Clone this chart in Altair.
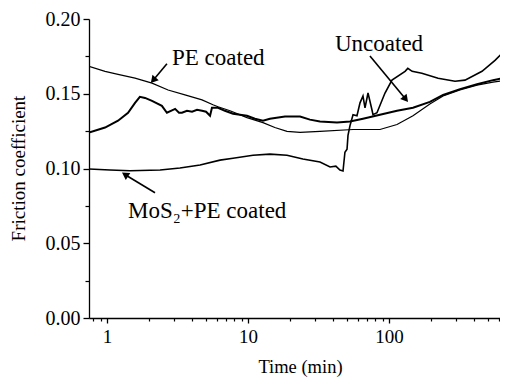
import altair as alt
import pandas as pd

# ---- data ----
pe_t = [0.745, 0.968, 1.197, 1.58, 2.085, 2.71, 3.57, 4.72, 5.64, 6.13, 7.45, 9.84,
        12.77, 15.5, 18.9, 23.4, 32.4, 55.6, 86.3, 114, 148, 195, 242, 319, 421, 547, 698]
pe_f = [0.1683, 0.1650, 0.1630, 0.1604, 0.1571, 0.1525, 0.1492, 0.1459, 0.1426, 0.1413, 0.1386, 0.1340,
        0.1307, 0.1274, 0.1248, 0.1241, 0.1248, 0.1261, 0.1261, 0.1294, 0.1353, 0.1432, 0.1485, 0.1525,
        0.1558, 0.1578, 0.1591]

unc_t = [0.745, 0.968, 1.197, 1.41, 1.58, 1.71, 1.86, 2.085, 2.45, 2.66, 2.84, 3.04, 3.24, 3.40,
         3.69, 4.01, 4.35, 4.72, 5.04, 5.38, 5.55, 6.13, 6.86, 7.83, 9.84, 11.2, 12.77, 14.3, 18.3,
         23.4, 27.5, 32.4, 42.8, 52.9, 65.4, 86.3, 114, 148, 195, 242, 319, 421, 547, 698]
unc_f = [0.1241, 0.1274, 0.1320, 0.1373, 0.1439, 0.1479, 0.1472, 0.1452, 0.1419, 0.1373, 0.1386,
         0.1399, 0.1373, 0.1373, 0.1386, 0.1380, 0.1393, 0.1386, 0.1380, 0.1353, 0.1406, 0.1406,
         0.1386, 0.1366, 0.1353, 0.1333, 0.1320, 0.1333, 0.1347, 0.1347, 0.1327, 0.1314, 0.1307,
         0.1314, 0.1333, 0.1360, 0.1386, 0.1406, 0.1446, 0.1492, 0.1531, 0.1564, 0.1591, 0.1611]

mos_t = [0.745, 1.05, 1.456, 2.38, 3.29, 4.57, 6.33, 7.83, 10.85, 14.3, 18.9, 24.5, 32.4, 38.2,
         42.0, 44.9, 47.2, 48.7, 50.4, 51.2, 52.9, 55.6, 59.3, 62.3, 65.4, 67.6, 71.0, 75.7, 77.0,
         82.2, 93.7, 105, 130, 136, 146, 171, 223, 294, 346, 457, 565, 633, 698]
mos_f = [0.0997, 0.0990, 0.0985, 0.0990, 0.1003, 0.1023, 0.1056, 0.1069, 0.1089, 0.1096, 0.1089,
         0.1063, 0.1043, 0.1010, 0.1016, 0.0990, 0.0983, 0.1109, 0.1129, 0.1221, 0.1287, 0.1360,
         0.1353, 0.1439, 0.1485, 0.1406, 0.1505, 0.1393, 0.1360, 0.1373, 0.1505, 0.1591, 0.1650,
         0.1670, 0.1650, 0.1637, 0.1604, 0.1584, 0.1591, 0.1650, 0.1723, 0.1769, 0.1789]

y_major = [0.0, 0.05, 0.10, 0.15, 0.20]
y_minor = [0.025, 0.075, 0.125, 0.175]
x_major = [1, 10, 100]
x_minor = [0.8, 0.9, 2, 3, 4, 5, 6, 7, 8, 9, 20, 30, 40, 50, 60, 70, 80, 90, 200, 300, 400, 500, 600]

label_text = ["PE coated", "Uncoated", "MoS\u2082+PE coated"]
label_t = [2.89, 41.4, 1.409]
label_f = [0.1690, 0.1785, 0.0670]

arrow_t1 = [2.66, 73.3, 2.19]
arrow_f1 = [0.1700, 0.1752, 0.0838]
arrow_t2 = [2.154, 129.8, 1.364]
arrow_f2 = [0.1597, 0.1470, 0.0955]
arrow_ang = [221, 140, 303]

FONT = "Liberation Serif, Times New Roman, serif"

pe = pd.DataFrame({"t": pe_t, "f": pe_f})
unc = pd.DataFrame({"t": unc_t, "f": unc_f})
mos = pd.DataFrame({"t": mos_t, "f": mos_f})
labels = pd.DataFrame({"t": label_t, "f": label_f, "txt": label_text})
arrows = pd.DataFrame({"t1": arrow_t1, "f1": arrow_f1, "t2": arrow_t2, "f2": arrow_f2, "ang": arrow_ang})

xs = alt.Scale(type="log", domain=[0.745, 613], nice=False)
ys = alt.Scale(domain=[0, 0.2], nice=False)

common_axis = dict(domainColor="black", tickColor="black", labelColor="black",
                   labelFont=FONT, grid=False, domainWidth=1.3, tickWidth=1.3)

x_axis_major = alt.Axis(values=x_major, format="d", tickSize=5, labelFontSize=19, labelPadding=4,
                        title="Time (min)", titleFont=FONT, titleFontSize=18.5, titleFontWeight="normal",
                        titleColor="black", titleX=211, titleY=54, titleBaseline="alphabetic",
                        titleAlign="center", orient="bottom", **common_axis)
y_axis_major = alt.Axis(values=y_major, format=".2f", tickSize=6, labelFontSize=20, labelPadding=3,
                        title="Friction coefficient", titleFont=FONT, titleFontSize=19,
                        titleFontWeight="normal", titleColor="black", titleAngle=270, titleX=-71,
                        titleY=149, titleBaseline="middle", titleAlign="center", orient="left",
                        **common_axis)
x_axis_minor = alt.Axis(values=x_minor, tickSize=3, labels=False, domain=False, title=None,
                        orient="bottom", tickColor="black", tickWidth=1.2, grid=False)
y_axis_minor = alt.Axis(values=y_minor, tickSize=4, labels=False, domain=False, title=None,
                        orient="left", tickColor="black", tickWidth=1.2, grid=False)

unc_layer = alt.Chart(unc).mark_line(color="black", strokeWidth=2.0, clip=True).encode(
    x=alt.X("t:Q", scale=xs, axis=x_axis_major),
    y=alt.Y("f:Q", scale=ys, axis=y_axis_major),
)
pe_layer = alt.Chart(pe).mark_line(color="black", strokeWidth=1.2, clip=True).encode(
    x=alt.X("t:Q", scale=xs, axis=x_axis_minor),
    y=alt.Y("f:Q", scale=ys, axis=y_axis_minor),
)
mos_layer = alt.Chart(mos).mark_line(color="black", strokeWidth=1.6, clip=True).encode(
    x=alt.X("t:Q", scale=xs, axis=None),
    y=alt.Y("f:Q", scale=ys, axis=None),
)
text_layer = alt.Chart(labels).mark_text(font=FONT, fontSize=23, align="left", baseline="alphabetic",
                                         color="black").encode(
    x=alt.X("t:Q", scale=xs, axis=None),
    y=alt.Y("f:Q", scale=ys, axis=None),
    text="txt:N",
)
shaft_layer = alt.Chart(arrows).mark_rule(color="black", strokeWidth=1.6).encode(
    x=alt.X("t1:Q", scale=xs, axis=None),
    y=alt.Y("f1:Q", scale=ys, axis=None),
    x2="t2:Q",
    y2="f2:Q",
)
head_layer = alt.Chart(arrows).mark_point(shape="triangle", filled=True, color="black", opacity=1,
                                          size=70).encode(
    x=alt.X("t2:Q", scale=xs, axis=None),
    y=alt.Y("f2:Q", scale=ys, axis=None),
    angle=alt.Angle("ang:Q", scale=None),
)

chart = alt.layer(unc_layer, pe_layer, mos_layer, shaft_layer, head_layer, text_layer).resolve_axis(
    x="independent", y="independent"
).properties(
    width=411, height=299,
    padding={"left": 81, "top": 11, "right": 0, "bottom": 62},
    autosize=alt.AutoSizeParams(type="none"),
    background="white",
).configure_view(stroke=None).configure_text(font=FONT)

chart.save("out.html", embed_options={"renderer": "svg", "actions": False})
